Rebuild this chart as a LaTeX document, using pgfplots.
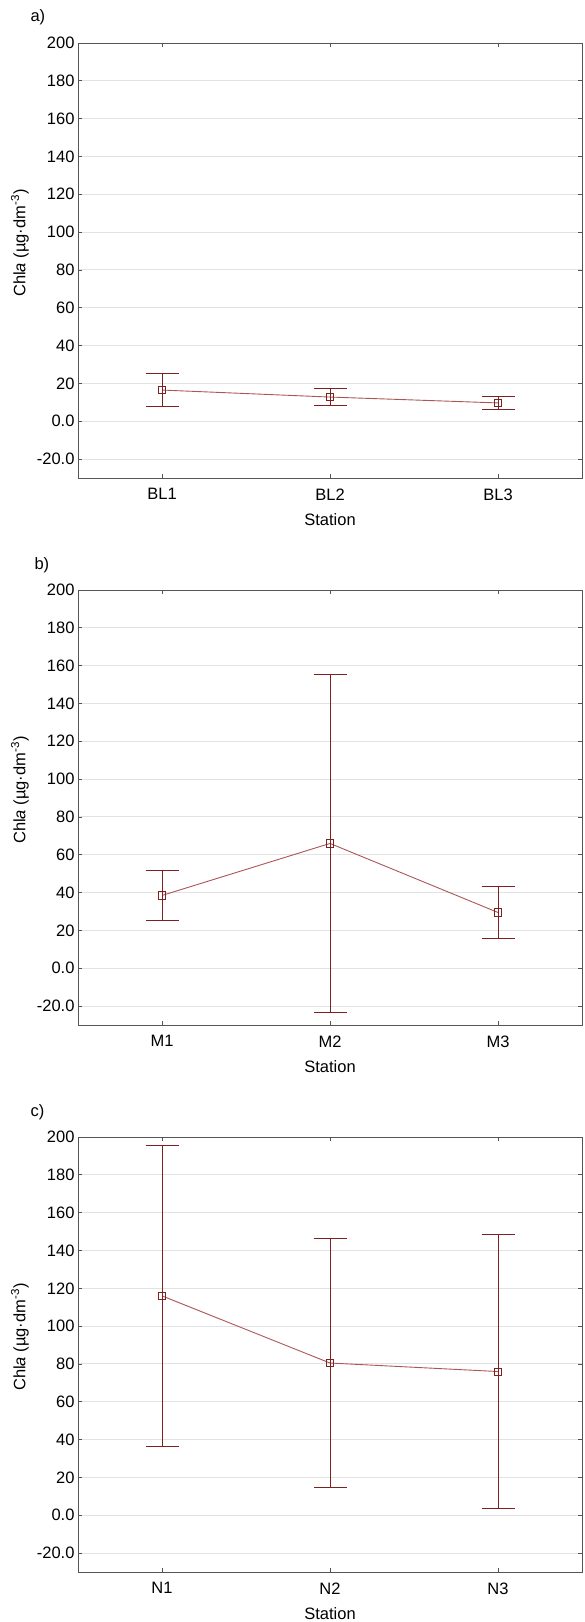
\documentclass[border=0pt]{standalone}
\usepackage{pgfplots}
\pgfplotsset{compat=1.18}
\usepackage{fontspec}
\setmainfont{Liberation Sans}
\definecolor{meanline}{RGB}{172,85,85}
\definecolor{errc}{RGB}{125,32,32}
\definecolor{gridc}{RGB}{226,226,226}
\definecolor{axc}{RGB}{85,85,85}
\pgfplotsset{panel/.style={
  width=504pt, height=435pt, scale only axis,
  xmin=-0.5, xmax=2.5, ymin=-30, ymax=200,
  xtick={0,1,2}, ytick={-20,0,20,40,60,80,100,120,140,160,180,200},
  yticklabels={-20.0,0.0,20,40,60,80,100,120,140,160,180,200},
  ymajorgrids, major grid style={gridc, line width=1pt},
  axis line style={axc, line width=1pt},
  tick style={axc, line width=0.8pt}, tick align=inside, major tick length=4pt,
  xlabel={Station},
  ylabel={Chl\textit{a} (µg·dm\textsuperscript{-3})},
  ylabel style={at={(axis description cs:-0.115,0.54)}, anchor=center},
  xlabel style={at={(axis description cs:0.5,0)}, anchor=center, yshift=-42pt},
  xticklabel style={yshift=-7pt},
  anchor=north west,
}}
\pgfplotsset{series/.style={meanline, line width=0.9pt, mark=square, mark size=3.6pt,
  mark options={errc, solid, line width=0.8pt},
  error bars/.cd, y dir=both, y explicit,
  error bar style={errc, line width=1pt},
  error mark options={errc, rotate=90, mark size=16.5pt, line width=1pt}}}
\begin{document}
\begin{tikzpicture}[font=\fontsize{16.5}{20}\selectfont]
\useasboundingbox (0,0) rectangle (585pt,-1622pt);
\node[anchor=west] at (27pt,-17pt) {a)};
\node[anchor=west] at (31pt,-565pt) {b)};
\node[anchor=west] at (27pt,-1112pt) {c)};
\begin{axis}[panel, at={(78pt,-43pt)}, xticklabels={BL1,BL2,BL3}]
\addplot[series] coordinates {(0,16.5) +- (0,8.8) (1,12.8) +- (0,4.3) (2,9.7) +- (0,3.3)};
\end{axis}
\begin{axis}[panel, at={(78pt,-590pt)}, xticklabels={M1,M2,M3}]
\addplot[series] coordinates {(0,38.5) +- (0,13) (1,66) +- (0,89.3) (2,29.5) +- (0,14)};
\end{axis}
\begin{axis}[panel, at={(78pt,-1137pt)}, xticklabels={N1,N2,N3}]
\addplot[series] coordinates {(0,116) +- (0,79.5) (1,80.5) +- (0,65.7) (2,76) +- (0,72.6)};
\end{axis}
\end{tikzpicture}
\end{document}
